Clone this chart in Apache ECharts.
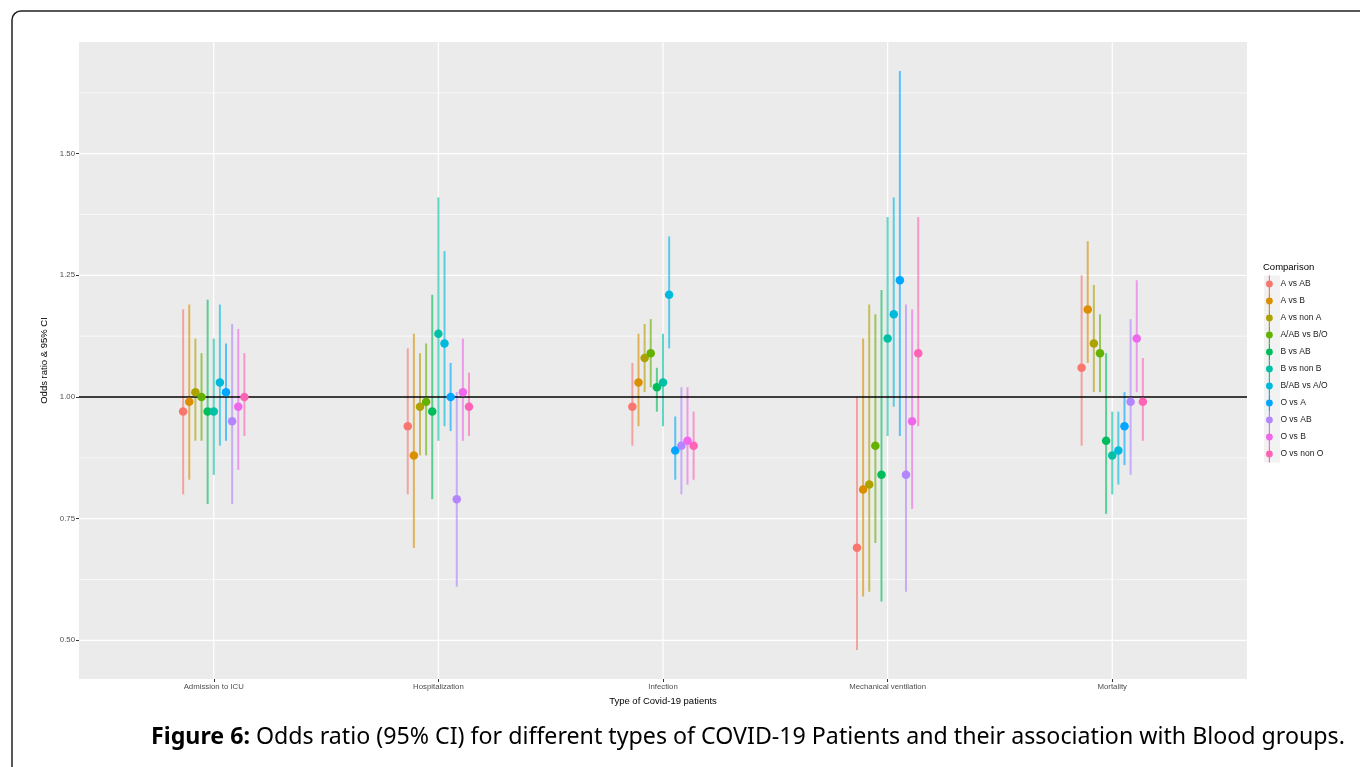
<!DOCTYPE html>
<html>
<head>
<meta charset="utf-8">
<script src="https://cdn.jsdelivr.net/npm/echarts@6/dist/echarts.min.js"></script>
<style>
    html, body { margin: 0; padding: 0; background: #fff; }
    #chart { width: 1360px; height: 767px; }
</style>
</head>
<body>
<div id="chart"></div>
<script>
const categories = ["Admission to ICU", "Hospitalization", "Infection", "Mechanical ventilation", "Mortality"];
const comparisons = ["A vs AB", "A vs B", "A vs non A", "A/AB vs B/O", "B vs AB", "B vs non B",
    "B/AB vs A/O", "O vs A", "O vs AB", "O vs B", "O vs non O"];
const colors = ["#F8766D", "#DB8E00", "#AEA200", "#64B200", "#00BD5C", "#00C1A7",
    "#00BADE", "#00A6FF", "#B385FF", "#EF67EB", "#FF63B6"];

// one row per category, one value per comparison
const oddsRatio = [
    [0.97, 0.99, 1.01, 1.00, 0.97, 0.97, 1.03, 1.01, 0.95, 0.98, 1.00],
    [0.94, 0.88, 0.98, 0.99, 0.97, 1.13, 1.11, 1.00, 0.79, 1.01, 0.98],
    [0.98, 1.03, 1.08, 1.09, 1.02, 1.03, 1.21, 0.89, 0.90, 0.91, 0.90],
    [0.69, 0.81, 0.82, 0.90, 0.84, 1.12, 1.17, 1.24, 0.84, 0.95, 1.09],
    [1.06, 1.18, 1.11, 1.09, 0.91, 0.88, 0.89, 0.94, 0.99, 1.12, 0.99]
];
const ciLow = [
    [0.80, 0.83, 0.91, 0.91, 0.78, 0.84, 0.90, 0.91, 0.78, 0.85, 0.92],
    [0.80, 0.69, 0.88, 0.88, 0.79, 0.91, 0.94, 0.93, 0.61, 0.91, 0.92],
    [0.90, 0.94, 1.01, 1.02, 0.97, 0.94, 1.10, 0.83, 0.80, 0.82, 0.83],
    [0.48, 0.59, 0.60, 0.70, 0.58, 0.92, 0.98, 0.92, 0.60, 0.77, 0.94],
    [0.90, 1.07, 1.01, 1.01, 0.76, 0.80, 0.82, 0.86, 0.84, 1.01, 0.91]
];
const ciHigh = [
    [1.18, 1.19, 1.12, 1.09, 1.20, 1.12, 1.19, 1.11, 1.15, 1.14, 1.09],
    [1.10, 1.13, 1.09, 1.11, 1.21, 1.41, 1.30, 1.07, 1.01, 1.12, 1.05],
    [1.07, 1.13, 1.15, 1.16, 1.06, 1.13, 1.33, 0.96, 1.02, 1.02, 0.97],
    [1.00, 1.12, 1.19, 1.17, 1.22, 1.37, 1.41, 1.67, 1.19, 1.18, 1.37],
    [1.25, 1.32, 1.23, 1.17, 1.09, 0.97, 0.97, 1.01, 1.16, 1.24, 1.08]
];

const yTicks = [0.5, 0.75, 1.0, 1.25, 1.5];
const yMinor = [0.625, 0.875, 1.125, 1.375, 1.625];
const xTicks = [1, 2, 3, 4, 5];
const refLine = 1.0;

const dodgeWidth = 0.3;
const fontFamily = "Liberation Sans, Arial, sans-serif";

function dodgeX(cat, i) {
    const step = dodgeWidth / comparisons.length;
    return cat + 1 + (i - (comparisons.length - 1) / 2) * step;
}

// ggplot-like 5% expansion of the data range
const allLow = Math.min(...ciLow.flat());
const allHigh = Math.max(...ciHigh.flat());
const pad = (allHigh - allLow) * 0.05;

function gridLines(values, horizontal, width) {
    return {
        type: "custom",
        silent: true,
        z: 1,
        data: values.map((v) => [v]),
        renderItem(params, api) {
            const cs = params.coordSys;
            const v = api.value(0);
            if (horizontal) {
                const p = api.coord([0.4, v]);
                return { type: "line", shape: { x1: cs.x, y1: p[1], x2: cs.x + cs.width, y2: p[1] },
                    style: { stroke: "#fff", lineWidth: width } };
            }
            const p = api.coord([v, 1]);
            return { type: "line", shape: { x1: p[0], y1: cs.y, x2: p[0], y2: cs.y + cs.height },
                style: { stroke: "#fff", lineWidth: width } };
        }
    };
}

const series = [
    gridLines(yMinor, true, 0.6),
    gridLines(yTicks, true, 1.2),
    gridLines(xTicks, false, 1.2)
];

comparisons.forEach((name, i) => {
    series.push({
        type: "custom",
        name: name,
        z: 2,
        itemStyle: { color: colors[i] },
        data: categories.map((c, k) => [dodgeX(k, i), ciLow[k][i], ciHigh[k][i]]),
        encode: { x: 0, y: [1, 2] },
        renderItem(params, api) {
            const x = api.value(0);
            const a = api.coord([x, api.value(1)]);
            const b = api.coord([x, api.value(2)]);
            return { type: "line", shape: { x1: a[0], y1: a[1], x2: b[0], y2: b[1] },
                style: { stroke: colors[i], lineWidth: 2, opacity: 0.62 } };
        }
    });
});

series.push({
    type: "custom",
    silent: true,
    z: 3,
    data: [[refLine]],
    renderItem(params, api) {
        const cs = params.coordSys;
        const p = api.coord([1, api.value(0)]);
        return { type: "line", shape: { x1: cs.x, y1: p[1], x2: cs.x + cs.width, y2: p[1] },
            style: { stroke: "#000", lineWidth: 1.4 } };
    }
});

comparisons.forEach((name, i) => {
    series.push({
        type: "scatter",
        name: name,
        z: 4,
        symbolSize: 8.5,
        itemStyle: { color: colors[i], opacity: 1 },
        data: categories.map((c, k) => [dodgeX(k, i), oddsRatio[k][i]])
    });
});

const legendIcon = "path://M5.4,0 L6.6,0 L6.6,17 L5.4,17 Z M2.6,8.5 A3.4,3.4 0 1,1 9.4,8.5 A3.4,3.4 0 1,1 2.6,8.5 Z";

const option = {
    animation: false,
    grid: {
        left: 79, top: 42, width: 1168, height: 637,
        show: true, backgroundColor: "#EBEBEB", borderWidth: 0
    },
    title: [
        {
            text: "{b|Figure 6:} Odds ratio (95% CI) for different types of COVID-19 Patients and their association with Blood groups.",
            left: 151, top: 726,
            padding: 0,
            textStyle: {
                fontFamily: "Noto Sans, sans-serif", fontSize: 23.2, fontWeight: "normal", color: "#000",
                rich: { b: { fontFamily: "Noto Sans, sans-serif", fontSize: 23.2, fontWeight: "bold", color: "#000" } }
            }
        },
        {
            text: "Comparison",
            left: 1263, top: 262, padding: 0,
            textStyle: { fontFamily: fontFamily, fontSize: 9.5, fontWeight: "normal", color: "#000" }
        }
    ],
    legend: {
        orient: "vertical",
        left: 1266, top: 275.5,
        itemWidth: 12, itemHeight: 17, itemGap: 0,
        padding: 0,
        data: comparisons.map((n) => ({ name: n, icon: legendIcon })),
        textStyle: { fontFamily: fontFamily, fontSize: 8.5, color: "#1a1a1a" }
    },
    xAxis: {
        type: "value",
        min: 0.4, max: 5.6,
        name: "Type of Covid-19 patients",
        nameLocation: "middle",
        nameGap: 16,
        nameTextStyle: { fontFamily: fontFamily, fontSize: 9.5, color: "#000" },
        axisLine: { show: false },
        splitLine: { show: false },
        axisTick: { show: true, length: 3, customValues: xTicks, lineStyle: { color: "#333" } },
        axisLabel: {
            customValues: xTicks, margin: 4,
            fontFamily: fontFamily, fontSize: 7.8, color: "#4D4D4D",
            formatter: (v) => categories[Math.round(v) - 1] || ""
        }
    },
    yAxis: {
        type: "value",
        min: allLow - pad, max: allHigh + pad,
        name: "Odds ratio & 95% CI",
        nameLocation: "middle",
        nameGap: 27,
        nameTextStyle: { fontFamily: fontFamily, fontSize: 9.5, color: "#000" },
        axisLine: { show: false },
        splitLine: { show: false },
        axisTick: { show: true, length: 3, customValues: yTicks, lineStyle: { color: "#333" } },
        axisLabel: {
            customValues: yTicks, margin: 4,
            fontFamily: fontFamily, fontSize: 7.8, color: "#4D4D4D",
            formatter: (v) => v.toFixed(2)
        }
    },
    graphic: [
        {
            type: "rect", z: -1,
            shape: { x: 12, y: 11, width: 1400, height: 800, r: 9 },
            style: { fill: "none", stroke: "#222", lineWidth: 1.5 }
        },
        {
            type: "rect", z: -1,
            shape: { x: 1264, y: 275.5, width: 16, height: 187 },
            style: { fill: "#F2F2F2" }
        }
    ],
    series: series
};

const chart = echarts.init(document.getElementById("chart"));
chart.setOption(option);
</script>
</body>
</html>
